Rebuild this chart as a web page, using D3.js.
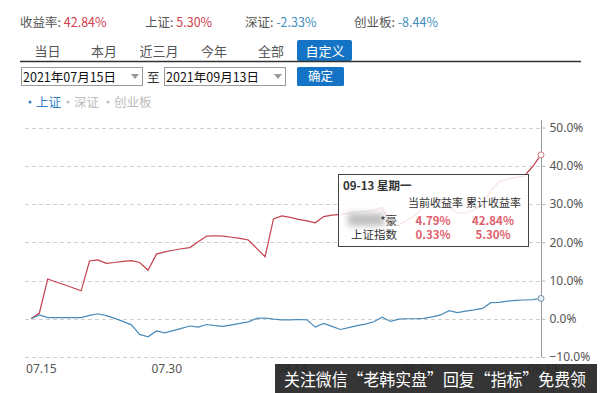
<!DOCTYPE html>
<html><head><meta charset="utf-8">
<script src="https://cdn.jsdelivr.net/npm/d3@7/dist/d3.min.js"></script>
<style>
body{margin:0;background:#fff;}
svg{display:block;font-family:"Noto Sans CJK SC","Noto Sans",sans-serif;}
</style></head><body>
<svg id="c" width="600" height="393"></svg>
<script>
// ---- data ----
const startDate = "2021-07-14";
const endDate = "2021-09-13";
const portfolioReturns = [0,1.5,10.4,9.6,8.9,8.1,7.3,15.1,15.4,14.5,14.7,15.0,15.2,14.7,12.7,16.9,17.5,17.9,18.3,18.6,20.1,21.6,21.7,21.6,21.3,21.0,20.6,18.4,16.2,26.1,26.9,26.5,26.0,25.6,25.1,26.7,27.1,27.3,27.6,27.9,28.1,28.4,29.1,24.5,24.5,25.8,27.1,29.3,30.2,31.0,29.3,27.6,27.6,28.5,30.0,33.5,35.8,36.5,37.0,37.3,39.8,42.84];
const shIndexReturns = [0,1.0,0.3,0.3,0.3,0.3,0.3,0.9,1.3,0.8,0.1,-0.7,-1.6,-4.1,-4.7,-3.2,-3.7,-3.1,-2.5,-1.9,-2.2,-1.5,-1.8,-2.0,-1.6,-1.2,-0.8,0.1,0.2,-0.1,-0.3,-0.3,-0.2,-0.3,-2.2,-1.2,-2.0,-2.8,-2.3,-1.8,-1.4,-0.8,0.4,-0.7,-0.1,0.0,0.0,0.1,0.5,1.0,2.1,1.6,2.0,2.3,2.7,4.2,4.3,4.6,4.8,4.9,5.0,5.3];
const xTickDates = ["2021-07-15","2021-07-30","2021-08-14","2021-08-29","2021-09-13"];
const yTicks = [-10,0,10,20,30,40,50];
const summaryLabels = ["收益率: ","上证: ","深证: ","创业板: "];
const summaryValues = ["42.84%","5.30%","-2.33%","-8.44%"];
const tabs = ["当日","本月","近三月","今年","全部","自定义"];
const legendItems = ["上证","深证","创业板"];
const tooltipDate = "09-13 星期一";
const tooltipHeaders = ["当前收益率","累计收益率"];
const tooltipRows = [["*豪","4.79%","42.84%"],["上证指数","0.33%","5.30%"]];
const watermark = "关注微信“老韩实盘”回复“指标”免费领";

const parse = d3.timeParse("%Y-%m-%d");
const dates = d3.timeDay.range(parse(startDate), d3.timeDay.offset(parse(endDate),1));

const svg = d3.select("#c");
const defs = svg.append("defs");
defs.append("filter").attr("id","blur").attr("x","-50%").attr("y","-50%").attr("width","200%").attr("height","200%")
  .append("feGaussianBlur").attr("stdDeviation",3);

// ---- header ----
const sumX = [20,145,245,354];
const sumColors = ["#d2404a","#d2404a","#3f8fc0","#3f8fc0"];
summaryLabels.forEach((l,i)=>{
  const t = svg.append("text").attr("x",sumX[i]).attr("y",27).attr("font-size",12.5);
  t.append("tspan").attr("fill","#555").text(l);
  t.append("tspan").attr("fill",sumColors[i]).text(summaryValues[i]);
});
const tabX = [47.5,104,159,214,271,325];
svg.append("rect").attr("x",297).attr("y",40).attr("width",55).attr("height",21).attr("rx",2).attr("fill","#1473c4");
tabs.forEach((t,i)=>{
  svg.append("text").attr("x",tabX[i]).attr("y",55.5).attr("text-anchor","middle").attr("font-size",13)
    .attr("fill", i===5?"#fff":"#555").text(t);
});
svg.append("line").attr("x1",20).attr("x2",581).attr("y1",61.5).attr("y2",61.5).attr("stroke","#333").attr("stroke-width",1.5);

// date inputs
[[21,"2021年07月15日"],[164,"2021年09月13日"]].forEach(([x,t])=>{
  svg.append("rect").attr("x",x+0.5).attr("y",67.5).attr("width",121).attr("height",18).attr("fill","#fff").attr("stroke","#999");
  svg.append("text").attr("x",x+2).attr("y",81.5).attr("font-size",12.5).attr("fill","#111").text(t);
  svg.append("path").attr("d",`M${x+110},74 l8,0 l-4,5 z`).attr("fill","#999");
});
svg.append("text").attr("x",147).attr("y",81.5).attr("font-size",12.5).attr("fill","#333").text("至");
svg.append("rect").attr("x",297).attr("y",67).attr("width",47).attr("height",19).attr("rx",1.5).attr("fill","#1473c4");
svg.append("text").attr("x",320.5).attr("y",81).attr("text-anchor","middle").attr("font-size",12.5).attr("fill","#fff").text("确定");

// legend
const legX = [30,68,108];
legendItems.forEach((t,i)=>{
  const c = i===0?"#2f7fc1":"#bbb";
  svg.append("circle").attr("cx",legX[i]).attr("cy",102).attr("r",1.5).attr("fill",c);
  svg.append("text").attr("x",legX[i]+6).attr("y",106.5).attr("font-size",12.5).attr("fill",c).text(t);
});

// ---- chart ----
const x = d3.scaleTime().domain([dates[0], dates[dates.length-1]]).range([31,541]);
const y = d3.scaleLinear().domain([-10,50]).range([357,127.5]);

// grid
svg.append("g").selectAll("line").data(yTicks).join("line")
  .attr("x1",25).attr("x2",541).attr("y1",d=>Math.round(y(d))+0.5).attr("y2",d=>Math.round(y(d))+0.5)
  .attr("stroke","#d0d0d0").attr("stroke-dasharray","4,3");

// right axis
const yAxis = d3.axisRight(y).tickValues(yTicks).tickSize(4).tickPadding(4).tickFormat(d=>d3.format(".1f")(d)+"%");
const ga = svg.append("g").attr("transform","translate(541.5,0)").call(yAxis);
ga.select(".domain").attr("stroke","#999").attr("d","M0,120V357");
ga.selectAll(".tick line").attr("stroke","#bbb");
ga.selectAll(".tick text").attr("fill","#555").attr("font-size",12).attr("font-family","'Noto Sans','DejaVu Sans',sans-serif");

// x axis
const xAxis = d3.axisBottom(x).tickValues(xTickDates.map(parse)).tickSize(0).tickPadding(0).tickFormat(d3.timeFormat("%m.%d"));
const gx = svg.append("g").attr("transform","translate(1.5,373)").call(xAxis);
gx.select(".domain").remove();
gx.selectAll(".tick text").attr("fill","#555").attr("font-size",12).attr("dy","0").attr("font-family","'Noto Sans','DejaVu Sans',sans-serif");

const line = d3.line().x((d,i)=>x(dates[i])).y(d=>y(d));
svg.append("path").datum(portfolioReturns).attr("d",line).attr("fill","none").attr("stroke","#c4404c").attr("stroke-width",1.2);
svg.append("path").datum(shIndexReturns).attr("d",line).attr("fill","none").attr("stroke","#4a8ab8").attr("stroke-width",1.2);

const last = dates.length-1;
svg.append("circle").attr("cx",x(dates[last])).attr("cy",y(portfolioReturns[last])).attr("r",3)
  .attr("fill","#fff").attr("stroke","#d07a80").attr("stroke-width",1);
svg.append("circle").attr("cx",x(dates[last])).attr("cy",y(shIndexReturns[last])).attr("r",3)
  .attr("fill","#e8eef4").attr("stroke","#6f93b3").attr("stroke-width",1);

// ---- tooltip ----
svg.append("rect").attr("x",338.5).attr("y",174.5).attr("width",190).attr("height",72)
  .attr("fill","#fff").attr("fill-opacity",0.86).attr("stroke","#444").attr("stroke-width",1);
svg.append("text").attr("x",343).attr("y",190).attr("font-size",11.5).attr("font-weight","bold").attr("fill","#333").text(tooltipDate);
svg.append("text").attr("x",408).attr("y",207).attr("font-size",11).attr("fill","#333").text(tooltipHeaders[0]);
svg.append("text").attr("x",466).attr("y",207).attr("font-size",11).attr("fill","#333").text(tooltipHeaders[1]);
svg.append("rect").attr("x",348).attr("y",213).attr("width",36).attr("height",13).attr("fill","#aaa").attr("opacity",0.75).attr("filter","url(#blur)");
tooltipRows.forEach((r,i)=>{
  const yy = 224.5 + i*14;
  svg.append("text").attr("x",397).attr("y",yy).attr("text-anchor","end").attr("font-size",11.5).attr("fill","#333").text(r[0]);
  svg.append("text").attr("x",433).attr("y",yy).attr("text-anchor","middle").attr("font-size",11.5).attr("font-weight","bold").attr("fill","#e0606c").text(r[1]);
  svg.append("text").attr("x",493).attr("y",yy).attr("text-anchor","middle").attr("font-size",11.5).attr("font-weight","bold").attr("fill","#e0606c").text(r[2]);
});

// ---- watermark bar ----
svg.append("rect").attr("x",275).attr("y",364).attr("width",322).attr("height",29).attr("fill","#262626").attr("fill-opacity",0.93);
svg.append("text").attr("x",284).attr("y",385.5).attr("font-size",16.5).attr("fill","#fff")
  .attr("textLength",302).attr("lengthAdjust","spacingAndGlyphs").text(watermark);
</script>
</body></html>
